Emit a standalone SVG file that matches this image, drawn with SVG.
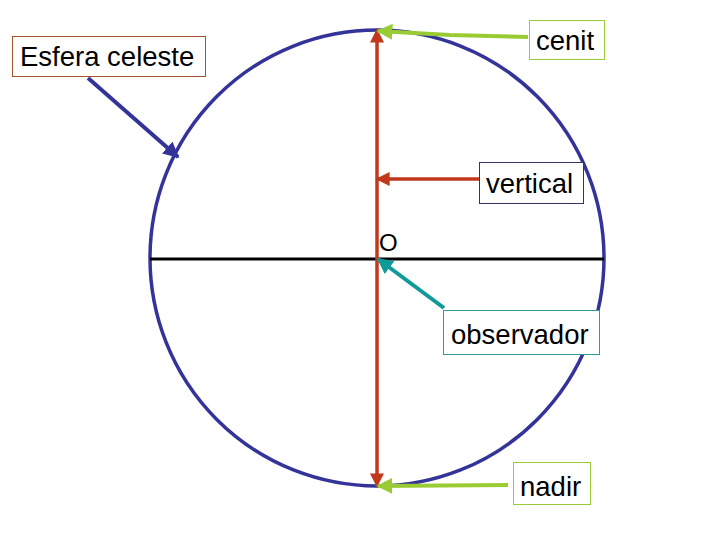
<svg xmlns="http://www.w3.org/2000/svg" width="720" height="540" viewBox="0 0 720 540">
<style>
text{font-family:"Liberation Sans",Arial,sans-serif;font-size:27.5px;fill:#000}
.box{fill:#fff;stroke-width:1}
</style>
<defs>
<marker id="mr" viewBox="0 0 10 10" refX="9" refY="5" markerWidth="4" markerHeight="4" orient="auto-start-reverse"><path d="M0,0L10,5L0,10z" fill="#c0391b"/></marker>
<marker id="mg" viewBox="0 0 10 10" refX="9" refY="5" markerWidth="4" markerHeight="4" orient="auto"><path d="M0,0L10,5L0,10z" fill="#99cc33"/></marker>
<marker id="mb" viewBox="0 0 10 10" refX="9" refY="5" markerWidth="4" markerHeight="4" orient="auto"><path d="M0,0L10,5L0,10z" fill="#333399"/></marker>
<marker id="mt" viewBox="0 0 10 10" refX="9" refY="5" markerWidth="4" markerHeight="4" orient="auto"><path d="M0,0L10,5L0,10z" fill="#109999"/></marker>
</defs>
<g id="esfera"><ellipse cx="377" cy="258" rx="227" ry="228" fill="none" stroke="#333399" stroke-width="3.5"/></g>
<g id="horizonte"><line x1="150" y1="259" x2="604" y2="259" stroke="#000" stroke-width="3"/></g>
<g id="connectors" fill="none">
<line x1="377" y1="486" x2="377" y2="30" stroke="#c0391b" stroke-width="3.5" marker-start="url(#mr)" marker-end="url(#mr)"/>
<line x1="88" y1="78" x2="178" y2="157" stroke="#333399" stroke-width="4" marker-end="url(#mb)"/>
<path d="M528,37L450,35L378,31" stroke="#99cc33" stroke-width="4" marker-end="url(#mg)"/>
<line x1="479" y1="179" x2="377" y2="179" stroke="#c0391b" stroke-width="3.5" marker-end="url(#mr)"/>
<line x1="444" y1="308" x2="378" y2="259" stroke="#109999" stroke-width="4" marker-end="url(#mt)"/>
<line x1="508" y1="485" x2="378" y2="486" stroke="#99cc33" stroke-width="4" marker-end="url(#mg)"/>
</g>
<g id="n-esfera"><rect class="box" x="12.5" y="36.5" width="193" height="40" stroke="#a0522d"/><text x="20" y="66">Esfera celeste</text></g>
<g id="n-cenit"><rect class="box" x="529.5" y="20.5" width="75" height="39" stroke="#99cc33"/><text x="536" y="50">cenit</text></g>
<g id="n-vertical"><rect class="box" x="479.5" y="162.5" width="104" height="41" stroke="#333366"/><text x="486" y="193">vertical</text></g>
<g id="n-o"><text x="379" y="251" style="font-size:24px">O</text></g>
<g id="n-observador"><rect class="box" x="443.5" y="310.5" width="156" height="44" stroke="#339999"/><text x="451" y="344">observador</text></g>
<g id="n-nadir"><rect class="box" x="513.5" y="462.5" width="77" height="42" stroke="#99cc33"/><text x="520" y="496">nadir</text></g>
</svg>
